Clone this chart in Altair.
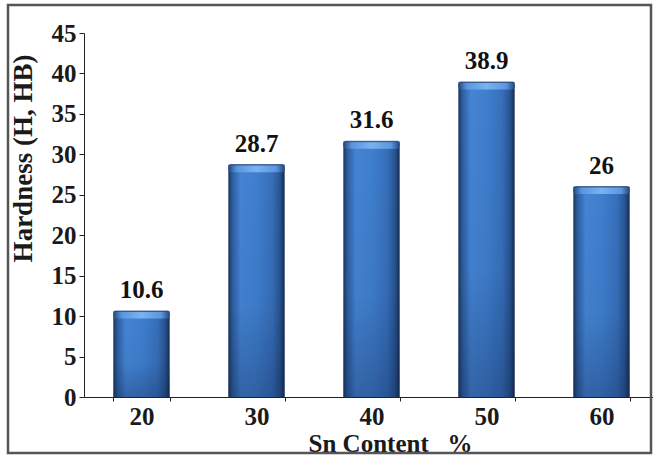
import altair as alt
import pandas as pd

categories = ["20", "30", "40", "50", "60"]
hardness = [10.6, 28.7, 31.6, 38.9, 26]
label_text = ["10.6", "28.7", "31.6", "38.9", "26"]
y_ticks = [0, 5, 10, 15, 20, 25, 30, 35, 40, 45]

df = pd.DataFrame({"sn": categories, "h": hardness, "lbl": label_text})

FONT = "'Times New Roman', 'Liberation Serif', Tinos, serif"
W, H = 569, 364

x_enc = alt.X(
    "sn:O",
    sort=categories,
    scale=alt.Scale(range=[0, 575], paddingInner=0.51, paddingOuter=0.255),
    axis=alt.Axis(
        title="Sn Content\u00a0\u00a0\u00a0%",
        labelAngle=0,
        tickBand="extent",
        tickSize=4,
        labelPadding=3,
        labelFontSize=25,
        labelFont=FONT,
        labelFontWeight="bold",
        labelColor="#1a1a1a",
        titleFont=FONT,
        titleFontSize=25,
        titleFontWeight="bold",
        titleColor="#1a1a1a",
        titleX=306,
        titleY=46,
        titleAlign="center",
        titleBaseline="middle",
        domainColor="#222222",
        tickColor="#222222",
        grid=False,
    ),
)
y_enc = alt.Y(
    "h:Q",
    scale=alt.Scale(domain=[0, 45], nice=False),
    axis=alt.Axis(
        title="Hardness (H, HB)",
        values=y_ticks,
        tickSize=5,
        labelPadding=3,
        labelFontSize=25,
        labelFont=FONT,
        labelFontWeight="bold",
        labelColor="#1a1a1a",
        titleFont=FONT,
        titleFontSize=27,
        titleFontWeight="bold",
        titleColor="#1a1a1a",
        titleX=-61,
        titleY=125,
        titleAlign="center",
        titleBaseline="middle",
        domainColor="#222222",
        tickColor="#222222",
        grid=False,
    ),
)

body_grad = alt.Gradient(
    gradient="linear", x1=0, x2=1, y1=0, y2=0,
    stops=[
        alt.GradientStop(offset=0.0, color="#1a335c"),
        alt.GradientStop(offset=0.07, color="#2d5d9e"),
        alt.GradientStop(offset=0.22, color="#4484d4"),
        alt.GradientStop(offset=0.5, color="#3f7fce"),
        alt.GradientStop(offset=0.78, color="#366fba"),
        alt.GradientStop(offset=0.92, color="#28538f"),
        alt.GradientStop(offset=1.0, color="#162b50"),
    ],
)
shade_grad = alt.Gradient(
    gradient="linear", x1=0, x2=0, y1=0, y2=1,
    stops=[
        alt.GradientStop(offset=0.0, color="rgba(10,25,60,0)"),
        alt.GradientStop(offset=0.6, color="rgba(10,25,60,0.05)"),
        alt.GradientStop(offset=1.0, color="rgba(10,25,60,0.3)"),
    ],
)
cap_grad = alt.Gradient(
    gradient="linear", x1=0, x2=1, y1=0, y2=0,
    stops=[
        alt.GradientStop(offset=0.0, color="#23467c"),
        alt.GradientStop(offset=0.15, color="#5a96e0"),
        alt.GradientStop(offset=0.5, color="#7ab3f0"),
        alt.GradientStop(offset=0.85, color="#5a96e0"),
        alt.GradientStop(offset=1.0, color="#23467c"),
    ],
)

base = alt.Chart(df).encode(x=x_enc)

bars = base.mark_bar(color=body_grad).encode(y=y_enc)
shade = base.mark_bar(color=shade_grad).encode(y="h:Q")
cap = base.transform_calculate(cap_lo="datum.h - 0.9").mark_bar(
    color=cap_grad, cornerRadius=3
).encode(y="h:Q", y2="cap_lo:Q")
edge = base.mark_tick(color="#203f70", thickness=1.5, size=54).encode(y="h:Q")

labels = base.mark_text(
    font=FONT, fontSize=25, fontWeight="bold", color="#111111",
    baseline="alphabetic", dy=-13,
).encode(y="h:Q", text="lbl:N")

border = alt.Chart(pd.DataFrame({"b": [0]})).mark_rect(
    fill="transparent", stroke="#555555", strokeWidth=2.5
).encode(
    x=alt.value(-76), x2=alt.value(567), y=alt.value(-28), y2=alt.value(420)
)

chart = (
    alt.layer(bars, shade, cap, edge, labels, border)
    .properties(
        width=W,
        height=H,
        autosize=alt.AutoSizeParams(type="none"),
        padding={"left": 84, "top": 33, "right": 0, "bottom": 60},
        background="white",
    )
    .configure_view(stroke=None)
)

chart.save("out.html", embed_options={"renderer": "svg", "actions": False})
